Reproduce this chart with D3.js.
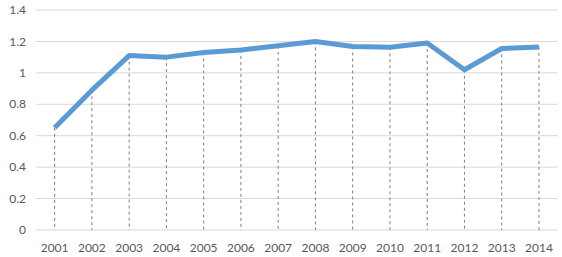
<!DOCTYPE html>
<html>
<head>
<meta charset="utf-8">
<script src="https://cdn.jsdelivr.net/npm/d3@7"></script>
<style>
  body { margin: 0; background: #fff; }
  svg text { font-family: Lato, "Open Sans", sans-serif; fill: #595959; font-size: 12px; }
</style>
</head>
<body>
<div id="chart"></div>
<script>
var years = ["2001","2002","2003","2004","2005","2006","2007","2008","2009","2010","2011","2012","2013","2014"];
var values = [0.65, 0.89, 1.11, 1.10, 1.13, 1.146, 1.172, 1.20, 1.168, 1.163, 1.19, 1.02, 1.155, 1.165];
var yTicks = [0, 0.2, 0.4, 0.6, 0.8, 1, 1.2, 1.4];

var W = 562, H = 257;
var plotLeft = 36, plotRight = 557.6, plotTop = 10, plotBottom = 230;

var svg = d3.select("#chart").append("svg")
    .attr("width", W).attr("height", H);

/*Scales*/
var x = d3.scaleBand().domain(years).range([plotLeft, plotRight]);
var y = d3.scaleLinear().domain([0, 1.4]).range([plotBottom, plotTop]);

/*Gridlines*/
svg.append("g").selectAll("line")
    .data(yTicks)
    .join("line")
    .attr("x1", plotLeft).attr("x2", plotRight)
    .attr("y1", d => y(d)).attr("y2", d => y(d))
    .attr("stroke", "#d9d9d9").attr("stroke-width", 1);

/*Y labels*/
svg.append("g").selectAll("text")
    .data(yTicks)
    .join("text")
    .attr("x", 26)
    .attr("y", d => y(d))
    .attr("dy", "0.35em")
    .attr("text-anchor", "end")
    .text(d => d3.format("~g")(d));

/*X labels*/
svg.append("g").selectAll("text")
    .data(years)
    .join("text")
    .attr("x", d => x(d) + x.bandwidth() / 2)
    .attr("y", 251.5)
    .attr("text-anchor", "middle")
    .text(d => d);

var data = years.map((yr, i) => ({year: yr, value: values[i]}));

/*Drop lines*/
svg.append("g").selectAll("line")
    .data(data)
    .join("line")
    .attr("x1", d => x(d.year) + x.bandwidth() / 2)
    .attr("x2", d => x(d.year) + x.bandwidth() / 2)
    .attr("y1", d => y(d.value))
    .attr("y2", y(0))
    .attr("stroke", "#7f7f7f")
    .attr("stroke-width", 1)
    .attr("stroke-dasharray", "3,3");

/*Line*/
svg.append("path")
    .datum(data)
    .attr("fill", "none")
    .attr("stroke", "#5b9bd5")
    .attr("stroke-width", 5)
    .attr("stroke-linejoin", "round")
    .attr("d", d3.line()
        .x(d => x(d.year) + x.bandwidth() / 2)
        .y(d => y(d.value)));
</script>
</body>
</html>
